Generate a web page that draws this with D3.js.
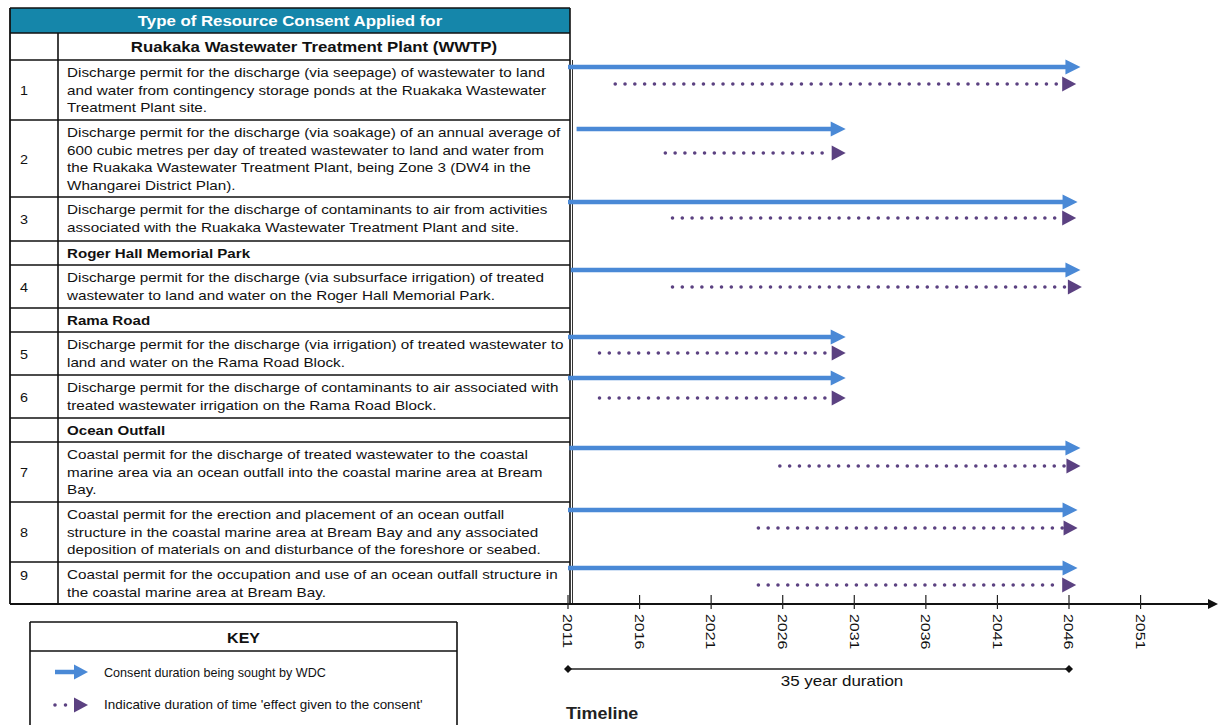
<!DOCTYPE html>
<html><head><meta charset="utf-8">
<script src="https://cdn.jsdelivr.net/npm/d3@7"></script>
<style>
html,body{margin:0;padding:0;background:#fff;}
svg{display:block;font-family:"Liberation Sans",Arial,sans-serif;}
</style></head>
<body>
<svg id="chart" width="1218" height="725"></svg>
<script>
// ---------------- DATA ----------------
const headerTitle = "Type of Resource Consent Applied for";
const sectionNames = ["Ruakaka Wastewater Treatment Plant (WWTP)", "Roger Hall Memorial Park", "Rama Road", "Ocean Outfall"];
const sectionBeforeItem = [0, 3, 4, 6]; // section appears before item index
const consentIds = ["1","2","3","4","5","6","7","8","9"];
const consentText = [
  ["Discharge permit for the discharge (via seepage) of wastewater to land","and water from contingency storage ponds at the Ruakaka Wastewater","Treatment Plant site."],
  ["Discharge permit for the discharge (via soakage) of an annual average of","600 cubic metres per day of treated wastewater to land and water from","the Ruakaka Wastewater Treatment Plant, being Zone 3 (DW4 in the","Whangarei District Plan)."],
  ["Discharge permit for the discharge of contaminants to air from activities","associated with the Ruakaka Wastewater Treatment Plant and site."],
  ["Discharge permit for the discharge (via subsurface irrigation) of treated","wastewater to land and water on the Roger Hall Memorial Park."],
  ["Discharge permit for the discharge (via irrigation) of treated wastewater to","land and water on the Rama Road Block."],
  ["Discharge permit for the discharge of contaminants to air associated with","treated wastewater irrigation on the Rama Road Block."],
  ["Coastal permit for the discharge of treated wastewater to the coastal","marine area via an ocean outfall into the coastal marine area at Bream","Bay."],
  ["Coastal permit for the erection and placement of an ocean outfall","structure in the coastal marine area at Bream Bay and any associated","deposition of materials on and disturbance of the foreshore or seabed."],
  ["Coastal permit for the occupation and use of an ocean outfall structure in","the coastal marine area at Bream Bay."]
];
// Consent duration being sought (solid arrows), years
const soughtStart = [2011, 2011.6, 2011, 2011.2, 2011, 2011, 2011.1, 2011, 2011];
const soughtEnd   = [2046.8, 2030.4, 2046.6, 2046.8, 2030.4, 2030.4, 2046.8, 2046.6, 2046.6];
// Indicative duration of effect given (dotted arrows), years
const effectStart = [2014.3, 2017.8, 2018.3, 2018.3, 2013.2, 2013.2, 2025.8, 2024.3, 2024.3];
const effectEnd   = [2046.5, 2030.4, 2046.5, 2046.9, 2030.4, 2030.4, 2046.8, 2046.6, 2046.5];
const tickYears = [2011, 2016, 2021, 2026, 2031, 2036, 2041, 2046, 2051];
const durationSpan = [2011, 2046];
const durationLabel = "35 year duration";
const timelineLabel = "Timeline";
const keyTitle = "KEY";
const keyLabels = ["Consent duration being sought by WDC", "Indicative duration of time 'effect given to the consent'"];

// ---------------- LAYOUT ----------------
const svg = d3.select("#chart");
const BLUE = "#4a89d6", PURPLE = "#5b4181", TEAL = "#1586aa";
const tblL = 10, tblR = 570, colDiv = 58, textX = 67;
const headerTop = 8, headerBot = 33;
const sectionH = [27, 24, 24, 24];
const itemH = [60, 77, 44, 43, 43, 43, 60, 60, 42];
const solidOff = [7, 9, 5, 5, 5, 3, 6, 8, 6];
const dotOff = [24, 33, 21, 22, 21, 23, 24, 26, 23];

const x = d3.scaleLinear().domain([2011, 2046]).range([568, 1069]);

// stretched text helper (reference glyphs are horizontally wide)
function stext(sel, tx, ty, str, size, sx, opts = {}) {
  const t = sel.append("text")
    .attr("transform", `translate(${tx},${ty}) scale(${sx},1)`)
    .attr("font-size", size).attr("fill", opts.fill || "#111")
    .attr("text-anchor", opts.anchor || "start")
    .text(str);
  if (opts.bold) t.attr("font-weight", "bold");
  return t;
}

// Build row list
const rows = [];
let y = headerBot;
let s = 0;
for (let i = 0; i < consentIds.length; i++) {
  while (s < sectionBeforeItem.length && sectionBeforeItem[s] === i) {
    rows.push({type: "section", idx: s, top: y, h: sectionH[s]});
    y += sectionH[s]; s++;
  }
  rows.push({type: "item", idx: i, top: y, h: itemH[i]});
  y += itemH[i];
}
const tblBot = y;

// Header
svg.append("rect").attr("x", tblL).attr("y", headerTop).attr("width", tblR - tblL).attr("height", headerBot - headerTop).attr("fill", TEAL);
stext(svg, (tblL + tblR) / 2, (headerTop + headerBot) / 2 + 5, headerTitle, 14.5, 1.16, {anchor: "middle", fill: "#fff", bold: true});

const g = svg.append("g");
rows.forEach(r => {
  g.append("line").attr("x1", tblL).attr("x2", tblR).attr("y1", r.top).attr("y2", r.top).attr("stroke", "#111").attr("stroke-width", 1.6);
  if (r.type === "section") {
    const first = r.idx === 0;
    if (first) stext(g, (colDiv + tblR) / 2, r.top + r.h / 2 + 5, sectionNames[r.idx], 14.5, 1.16, {anchor: "middle", bold: true});
    else stext(g, textX, r.top + r.h / 2 + 5, sectionNames[r.idx], 12.5, 1.21, {bold: true});
  } else {
    const lines = consentText[r.idx];
    stext(g, 20, r.idx === 8 ? r.top + 18 : r.top + r.h / 2 + 5, consentIds[r.idx], 12.5, 1.15);
    lines.forEach((ln, k) => {
      stext(g, textX, r.top + 17 + k * 17.6, ln, 12.5, 1.22);
    });
  }
});
// outer and column borders
g.append("line").attr("x1", tblL).attr("x2", tblR).attr("y1", tblBot).attr("y2", tblBot).attr("stroke", "#111").attr("stroke-width", 2.2);
g.append("line").attr("x1", tblL).attr("x2", tblR).attr("y1", headerTop).attr("y2", headerTop).attr("stroke", "#111").attr("stroke-width", 1.6);
g.append("line").attr("x1", tblL).attr("x2", tblL).attr("y1", headerTop).attr("y2", tblBot).attr("stroke", "#111").attr("stroke-width", 1.8);
g.append("line").attr("x1", tblR).attr("x2", tblR).attr("y1", headerTop).attr("y2", tblBot).attr("stroke", "#111").attr("stroke-width", 1.6);
g.append("line").attr("x1", colDiv).attr("x2", colDiv).attr("y1", headerBot).attr("y2", tblBot).attr("stroke", "#111").attr("stroke-width", 1.6);
// vertical timeline start line
g.append("line").attr("x1", 572.5).attr("x2", 572.5).attr("y1", headerBot + 27).attr("y2", tblBot).attr("stroke", "#333").attr("stroke-width", 1);

// Arrows
const arrowG = svg.append("g");
function solidArrow(sel, x1, x2, yy, w, hw, hh) {
  sel.append("line").attr("x1", x1).attr("x2", x2 - hw + 1).attr("y1", yy).attr("y2", yy)
    .attr("stroke", BLUE).attr("stroke-width", w);
  sel.append("path").attr("d", `M${x2 - hw},${yy - hh} L${x2},${yy} L${x2 - hw},${yy + hh} Z`).attr("fill", BLUE);
}
function dotArrow(sel, x1, x2, yy, hw, hh, step) {
  sel.append("line").attr("x1", x1).attr("x2", x2 - hw - 1).attr("y1", yy).attr("y2", yy)
    .attr("stroke", PURPLE).attr("stroke-width", 3.6).attr("stroke-linecap", "round")
    .attr("stroke-dasharray", `0 ${step}`);
  sel.append("path").attr("d", `M${x2 - hw},${yy - hh} L${x2},${yy} L${x2 - hw},${yy + hh} Z`).attr("fill", PURPLE);
}
rows.filter(r => r.type === "item").forEach(r => {
  const i = r.idx;
  solidArrow(arrowG, x(soughtStart[i]), x(soughtEnd[i]), r.top + solidOff[i], 4.5, 15, 7.5);
  dotArrow(arrowG, x(effectStart[i]), x(effectEnd[i]), r.top + dotOff[i], 14, 7.5, 9.8);
});

// Timeline axis
const axY = tblBot;
const axG = svg.append("g");
axG.append("line").attr("x1", 566).attr("x2", 1210).attr("y1", axY).attr("y2", axY).attr("stroke", "#111").attr("stroke-width", 1.8);
axG.append("path").attr("d", `M1208,${axY - 5} L1218,${axY} L1208,${axY + 5} Z`).attr("fill", "#111");
tickYears.forEach(t => {
  axG.append("line").attr("x1", x(t)).attr("x2", x(t)).attr("y1", axY - 9).attr("y2", axY + 5).attr("stroke", "#222").attr("stroke-width", 1.2);
  axG.append("text").attr("transform", `translate(${x(t)},${axY + 10}) rotate(90) scale(1.18,1)`)
    .attr("dy", "0.35em").attr("font-size", 13.5).attr("fill", "#111").text(t);
});
// Duration bracket
const dY = 669;
axG.append("line").attr("x1", x(durationSpan[0])).attr("x2", x(durationSpan[1])).attr("y1", dY).attr("y2", dY).attr("stroke", "#222").attr("stroke-width", 1.6);
durationSpan.forEach(d => {
  const cx = x(d);
  axG.append("path").attr("d", `M${cx - 4},${dY} L${cx},${dY - 4} L${cx + 4},${dY} L${cx},${dY + 4} Z`).attr("fill", "#111");
});
stext(axG, 842, dY + 17, durationLabel, 14.5, 1.17, {anchor: "middle"});
stext(axG, 566, 719, timelineLabel, 16, 1.12, {bold: true, fill: "#222"});

// Key
const kG = svg.append("g");
const kL = 30, kR = 457, kT = 622, kH = 651;
kG.append("line").attr("x1", kL).attr("x2", kR).attr("y1", kT).attr("y2", kT).attr("stroke", "#111").attr("stroke-width", 1.6);
kG.append("line").attr("x1", kL).attr("x2", kR).attr("y1", kH).attr("y2", kH).attr("stroke", "#111").attr("stroke-width", 1.6);
kG.append("line").attr("x1", kL).attr("x2", kL).attr("y1", kT).attr("y2", 725).attr("stroke", "#111").attr("stroke-width", 1.6);
kG.append("line").attr("x1", kR).attr("x2", kR).attr("y1", kT).attr("y2", 725).attr("stroke", "#111").attr("stroke-width", 1.6);
stext(kG, (kL + kR) / 2, 643, keyTitle, 14.5, 1.1, {anchor: "middle", bold: true});
solidArrow(kG, 55, 88, 672, 4.5, 14, 7.5);
dotArrow(kG, 55, 88, 705, 14, 7.5, 10.5);
stext(kG, 104, 677, keyLabels[0], 12, 1.05);
stext(kG, 104, 709, keyLabels[1], 12, 1.12);
</script>
</body></html>
